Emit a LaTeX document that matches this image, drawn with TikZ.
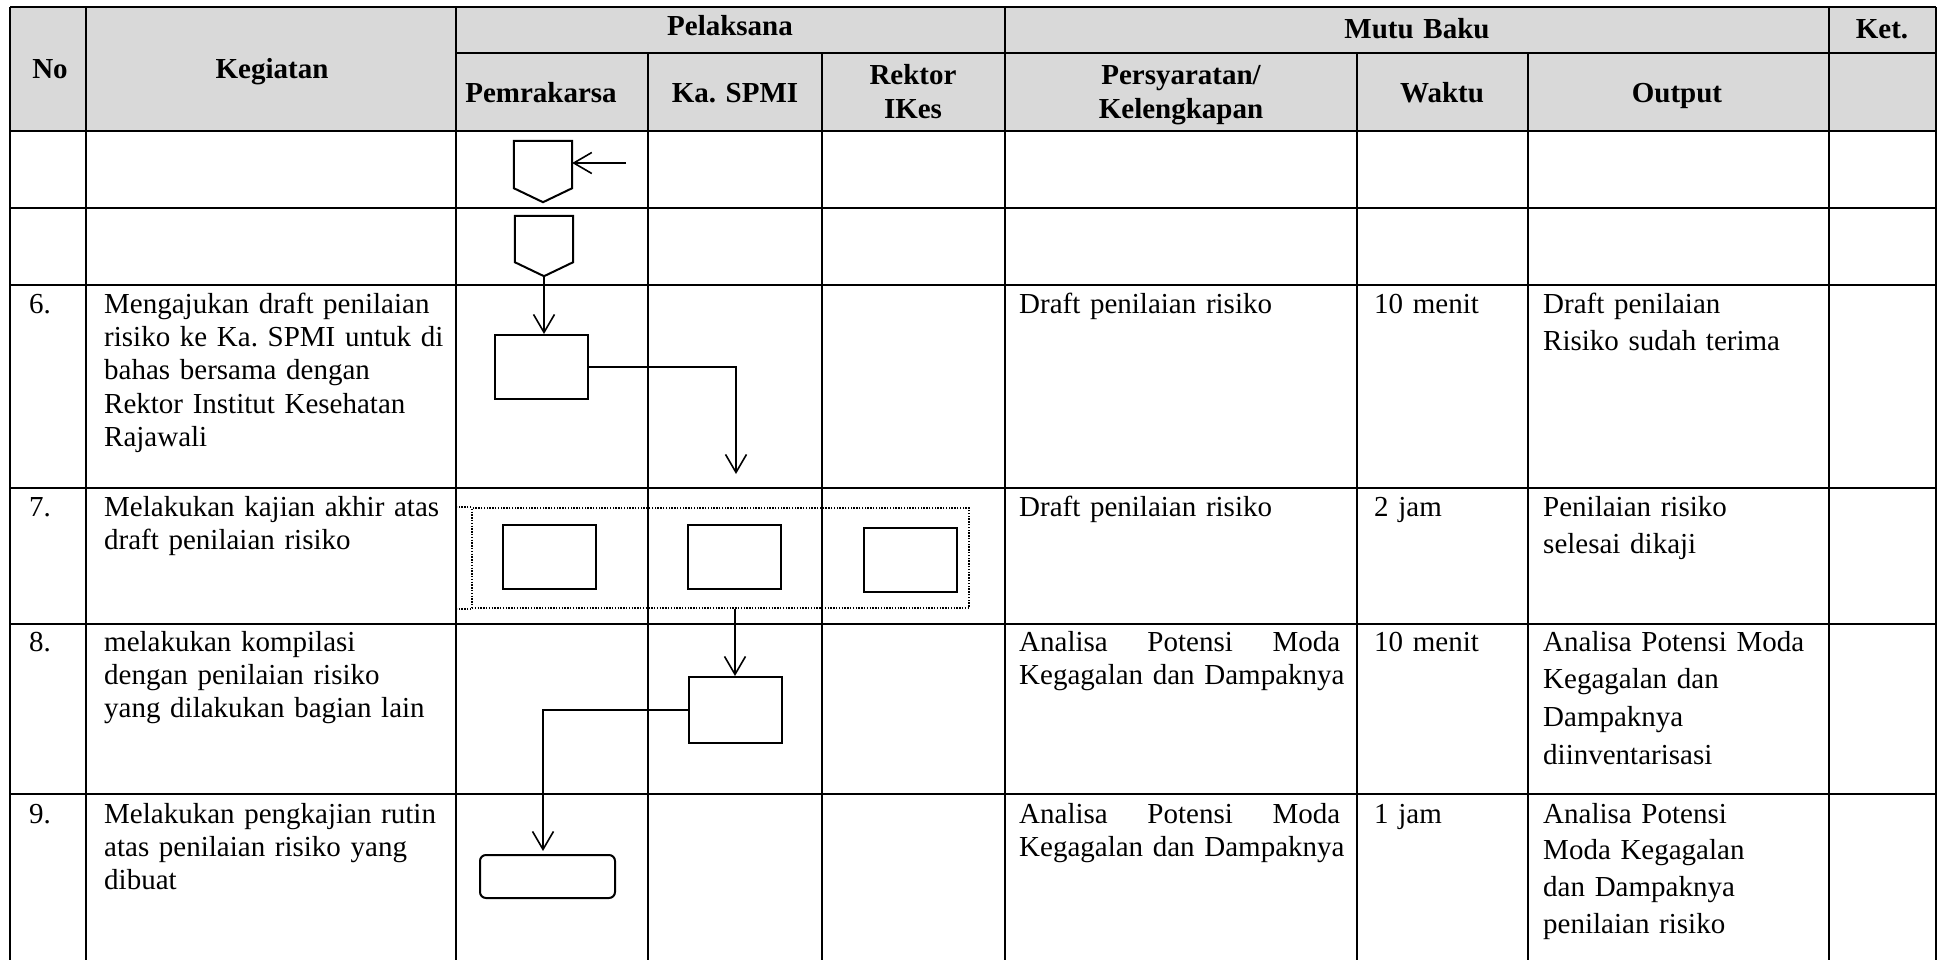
\documentclass[tikz,border=0pt]{standalone}
\usepackage{fontspec}
\setmainfont{Liberation Serif}
\usetikzlibrary{arrows.meta,calc}
\definecolor{hdrgray}{RGB}{217,217,217}
\frenchspacing
\begin{document}
\begin{tikzpicture}[x=1pt,y=-1pt,
  grid/.style={line width=2pt},
  hdr/.style={font=\fontsize{29}{33.5}\selectfont\bfseries\frenchspacing, inner sep=0pt, text width=200pt, align=center, anchor=base},
  txt/.style={font=\fontsize{29}{33.4}\selectfont\frenchspacing, inner sep=0pt, text width=345pt, anchor=base west, align=left},
  otxt/.style={font=\fontsize{29}{37.8}\selectfont\frenchspacing, inner sep=0pt, text width=345pt, anchor=base west, align=left},
  box/.style={draw, line width=2pt, minimum width=93pt, minimum height=64pt, inner sep=0pt},
  conn/.style={minimum width=58pt, minimum height=61pt, inner sep=0pt},
  arr/.style={line width=1.6pt, -{Straight Barb[length=18pt,width=21pt]}},
  dotline/.style={line width=1.6pt, dash pattern=on 1.4pt off 1.4pt},
]
\useasboundingbox (0,0) rectangle (1938,960);
\fill[white] (0,0) rectangle (1938,960);
% header background
\fill[hdrgray] (10,7) rectangle (1936,131);
% grid
\draw[grid]
  (10,7) -- (1936,7)
  (456,53) -- (1936,53)
  (10,131) -- (1936,131)
  (10,208) -- (1936,208)
  (10,285) -- (1936,285)
  (10,488) -- (1936,488)
  (10,624) -- (1936,624)
  (10,794) -- (1936,794)
  (10,7) -- (10,960)
  (86,7) -- (86,960)
  (456,7) -- (456,960)
  (648,53) -- (648,960)
  (822,53) -- (822,960)
  (1005,7) -- (1005,960)
  (1357,53) -- (1357,960)
  (1528,53) -- (1528,960)
  (1829,7) -- (1829,960)
  (1936,7) -- (1936,960);

% header texts
\node[hdr] (hNo) at (50,79) {No};
\node[hdr] (hKeg) at (272,79) {Kegiatan};
\node[hdr] (hPel) at (730,36) {Pelaksana};
\node[hdr] (hMutu) at (1417,39) {Mutu Baku};
\node[hdr, text width=100pt] (hKet) at (1882,39) {Ket.};
\node[hdr] (hPem) at (541,103) {Pemrakarsa};
\node[hdr] (hKa) at (735,103) {Ka. SPMI};
\node[hdr] (hRek) at (913,85) {Rektor\\IKes};
\node[hdr, text width=300pt] (hPer) at (1181,85) {Persyaratan/\\Kelengkapan};
\node[hdr] (hWak) at (1442,103) {Waktu};
\node[hdr] (hOut) at (1677,103) {Output};

% flow shapes
\node[conn] (c1) at (543,171.5) {};
\draw[line width=2pt] (c1.north west) -- (c1.north east) -- ($(c1.south east)+(0,-14)$) -- (c1.south) -- ($(c1.south west)+(0,-14)$) -- cycle;
\coordinate (in1) at (626,163);
\draw[arr] (in1) -- (in1 -| c1.east);

\node[conn, minimum height=60pt] (c2) at (544,246) {};
\draw[line width=2pt] (c2.north west) -- (c2.north east) -- ($(c2.south east)+(0,-14)$) -- (c2.south) -- ($(c2.south west)+(0,-14)$) -- cycle;

\node[box] (b6) at (541,367) {};
\draw[arr] (c2.south) -- (c2.south |- b6.north);
\coordinate (t6) at (736,474);
\draw[arr] (b6.east) -| (t6);

\node[draw, dotline, minimum width=497pt, minimum height=100pt, inner sep=0pt] (g7) at (720.5,558) {};
\draw[dotline] (g7.north west) -- ++(-14,0);
\draw[dotline] (g7.south west) -- ++(-14,0);
\node[box] (b7a) at (549,557) {};
\node[box] (b7b) at (734,557) {};
\node[box] (b7c) at (910,560) {};

\node[box, minimum height=66pt] (b8) at (735,710) {};
\draw[arr] (b8.north |- g7.south) -- (b8.north);
\coordinate (t9) at (543,851);
\draw[arr] (b8.west) -| (t9);

\node[draw, line width=2pt, rounded corners=6pt, minimum width=135pt, minimum height=43pt, inner sep=0pt] (b9) at (547.5,876.5) {};

% row 6
\node[txt] (n6) at (29,313) {6.};
\node[txt] (k6) at (104,313) {Mengajukan draft penilaian\\risiko ke Ka. SPMI untuk di\\bahas bersama dengan\\Rektor Institut Kesehatan\\Rajawali};
\node[txt] (p6) at (1019,313) {Draft penilaian risiko};
\node[txt] (w6) at (1374,313) {10 menit};
\node[otxt] (o6) at (1543,313) {Draft penilaian\\Risiko sudah terima};

% row 7
\node[txt] (n7) at (29,516) {7.};
\node[txt] (k7) at (104,516) {Melakukan kajian akhir atas\\draft penilaian risiko};
\node[txt] (p7) at (1019,516) {Draft penilaian risiko};
\node[txt] (w7) at (1374,516) {2 jam};
\node[otxt] (o7) at (1543,516) {Penilaian risiko\\selesai dikaji};

% row 8
\node[txt] (n8) at (29,651) {8.};
\node[txt] (k8) at (104,651) {melakukan kompilasi\\dengan penilaian risiko\\yang dilakukan bagian lain};
\node[txt] (p8) at (1019,651) {\hbox to 321pt{Analisa\hfill Potensi\hfill Moda}\\Kegagalan dan Dampaknya};
\node[txt] (w8) at (1374,651) {10 menit};
\node[otxt] (o8) at (1543,651) {Analisa Potensi Moda\\Kegagalan dan\\Dampaknya\\diinventarisasi};

% row 9
\node[txt] (n9) at (29,823) {9.};
\node[txt] (k9) at (104,823) {Melakukan pengkajian rutin\\atas penilaian risiko yang\\dibuat};
\node[txt] (p9) at (1019,823) {\hbox to 321pt{Analisa\hfill Potensi\hfill Moda}\\Kegagalan dan Dampaknya};
\node[txt] (w9) at (1374,823) {1 jam};
\node[otxt, font=\fontsize{29}{36.8}\selectfont\frenchspacing] (o9) at (1543,823) {Analisa Potensi\\Moda Kegagalan\\dan Dampaknya\\penilaian risiko};
\end{tikzpicture}
\end{document}
